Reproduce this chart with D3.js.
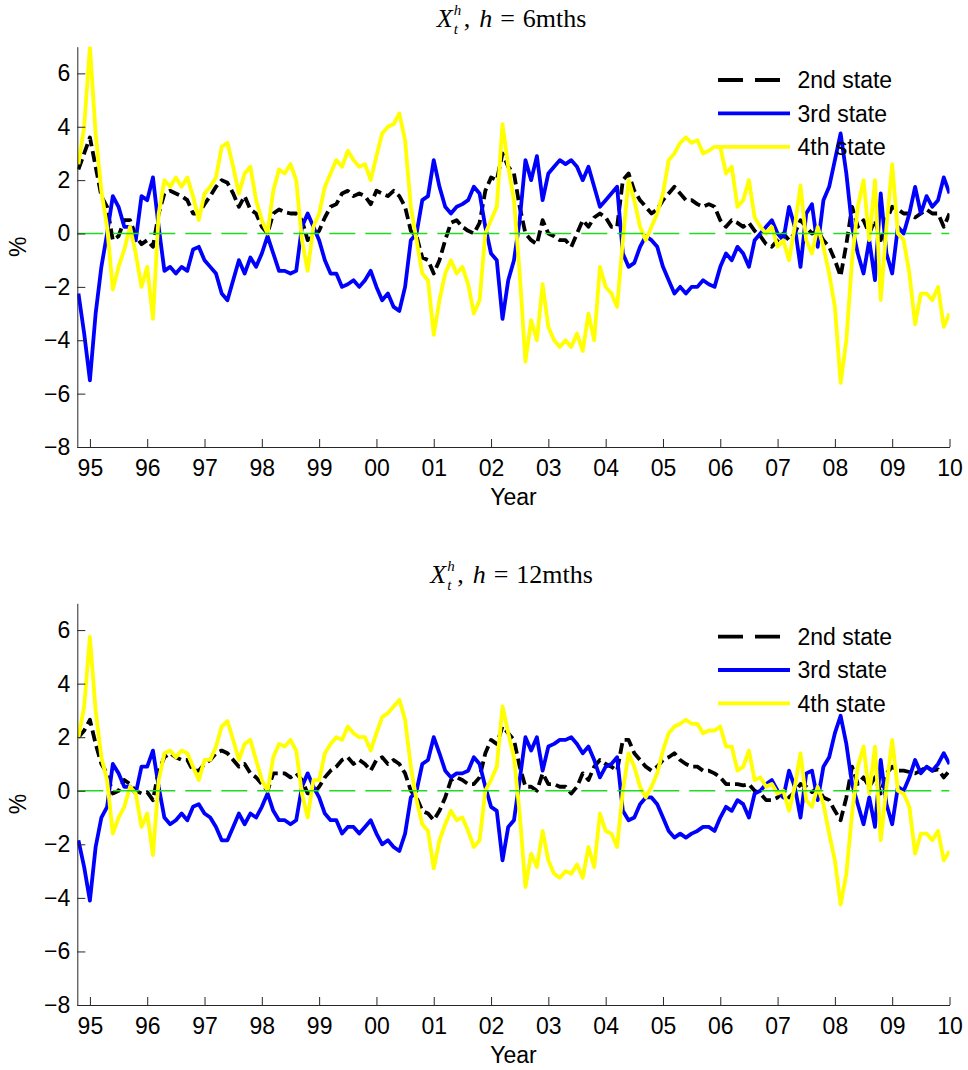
<!DOCTYPE html>
<html>
<head>
<meta charset="utf-8">
<script src="https://cdn.jsdelivr.net/npm/d3@7"></script>
<style>
  body { margin: 0; background: #fff; }
  svg { display: block; }
</style>
</head>
<body>
<svg id="chart" width="968" height="1070"></svg>
<script>
// Sample dates: decimal years, one observation every 0.1 year from 1994.8
const startYear = 1994.8;
const stepYear = 0.1;

// Horizon h = 6 months
const state2_6m = [2.4,3.0,3.6,2.5,1.4,1.0,-0.25,-0.1,0.5,0.5,-0.1,-0.4,-0.25,-0.5,0.75,1.5,1.6,1.5,1.4,1.25,0.75,0.75,1.1,1.4,1.75,2.0,1.9,1.5,1.0,1.4,0.9,0.75,0.25,0,0.75,0.9,0.8,0.75,
  0.75,0.5,-0.25,-0.1,0.1,0.6,1.0,1.1,1.5,1.6,1.4,1.5,1.4,1.1,1.6,1.5,1.4,1.6,1.4,1.0,0.1,-0.1,-0.9,-1.0,-1.5,-1.0,-0.25,0.4,0.5,0.25,0.1,0,0.4,1.6,2.1,2.0,3.0,2.5,
  2.25,1.0,0,-0.25,-0.4,0.5,0,-0.1,-0.25,-0.25,-0.5,0,0.5,0.25,0.6,0.75,0.6,0.25,0.25,2.0,2.25,1.6,1.25,1.0,0.75,0.9,1.25,1.5,1.75,1.5,1.25,1.25,1.1,1.0,1.1,1.0,0.5,0.25,
  0.5,0.4,0.25,0.4,0.1,-0.1,-0.4,-0.5,-0.25,0,-0.25,0,0.5,0.25,0,0.1,-0.25,-0.5,-1.0,-1.6,-0.4,1.0,0.25,0.5,0,0.5,-0.25,0.5,1.0,0.9,0.75,0.75,0.6,0.75,0.9,0.75,0.75,0.25,0.75];

const state3_6m = [-2.25,-3.75,-5.5,-3.0,-1.25,0,1.4,1.0,0.25,0.25,-0.25,1.4,1.25,2.1,0.25,-1.4,-1.25,-1.5,-1.25,-1.4,-0.6,-0.5,-1.0,-1.25,-1.5,-2.25,-2.5,-1.75,-1.0,-1.5,-0.9,-1.25,-0.75,-0.1,-0.75,-1.4,-1.4,-1.5,
  -1.4,0.25,0.75,0.25,-0.25,-1.0,-1.5,-1.5,-2.0,-1.9,-1.75,-2.0,-1.75,-1.4,-2.0,-2.5,-2.25,-2.75,-2.9,-2.0,-0.25,0,1.25,1.4,2.75,1.75,1.0,0.75,1.0,1.1,1.25,1.75,1.5,0.25,-0.75,-1.0,-3.2,-1.75,
  -1.0,0.5,2.75,2.0,2.9,1.25,2.25,2.5,2.75,2.6,2.75,2.5,2.0,2.5,1.75,1.0,1.25,1.5,1.75,-0.75,-1.25,-1.1,-0.5,-0.1,-0.25,-0.5,-1.25,-1.75,-2.25,-2.0,-2.25,-2.0,-2.0,-1.75,-1.9,-2.0,-1.25,-0.75,
  -1.0,-0.5,-0.75,-1.25,-0.25,0,0.25,0.5,0,-0.25,1.0,0.25,-1.25,0.75,1.1,-0.5,1.25,1.75,2.75,3.75,2.25,0.25,-0.75,-1.5,-0.25,-1.75,1.5,-0.75,-1.5,0.25,0,0.75,1.75,0.75,1.4,1.0,1.25,2.1,1.5];

const state4_6m = [2.6,4.0,7.0,3.75,1.6,0.25,-2.1,-1.25,-0.6,0.25,-0.75,-2.0,-1.25,-3.2,0.75,2.0,1.75,2.1,1.75,2.1,1.4,0.5,1.5,1.75,2.1,3.25,3.4,2.5,1.5,2.25,2.5,1.25,0.5,0,1.6,2.4,2.25,2.6,
  2.0,-0.25,-1.4,0.25,0.75,1.75,2.25,2.75,2.5,3.1,2.75,2.5,2.6,2.0,2.9,3.75,4.0,4.1,4.5,3.5,1.0,-0.25,-1.5,-1.75,-3.8,-2.5,-1.5,-1.0,-1.5,-1.25,-1.9,-3.0,-2.5,0,0.5,1.0,4.1,2.5,
  1.25,-1.5,-4.8,-3.25,-4.0,-1.9,-3.5,-4.0,-4.25,-4.0,-4.25,-3.75,-4.4,-3.0,-4.0,-1.25,-2.0,-2.25,-2.75,-0.25,2.0,1.25,0.25,-0.25,0.25,0.75,1.5,2.75,3.0,3.4,3.6,3.4,3.5,3.0,3.1,3.25,3.25,2.25,
  2.5,1.0,1.25,2.0,0.6,0.25,0,0.25,-0.5,-0.25,-1.0,0.25,1.8,-0.25,-0.75,0.25,-0.5,-1.5,-2.75,-5.6,-4.0,-1.0,1.0,2.0,-0.25,2.0,-2.5,0.25,2.6,0,-0.25,-1.5,-3.4,-2.25,-2.25,-2.5,-2.0,-3.5,-3.0];

// Horizon h = 12 months
const state2_12m = [2.0,2.25,2.65,1.75,1.0,0.65,-0.1,0,0.4,0.25,0,-0.1,-0.05,-0.35,0.75,1.25,1.4,1.25,1.15,1.15,0.75,0.75,1.0,1.15,1.4,1.5,1.4,1.15,0.9,1.0,0.65,0.5,0.25,0,0.65,0.65,0.65,0.5,
  0.65,0.4,-0.1,-0.1,0.15,0.5,0.75,0.9,1.15,1.25,1.0,1.15,1.0,0.75,1.15,1.25,1.0,1.15,1.0,0.65,0,-0.25,-0.75,-0.85,-1.1,-0.75,-0.25,0.4,0.5,0.4,0.25,0.25,0.5,1.4,1.9,1.75,2.4,2.15,
  1.9,0.9,0.15,0.15,0,0.65,0.25,0.25,0.15,0.15,-0.1,0.15,0.65,0.4,0.9,1.15,1.0,0.9,0.75,1.9,1.9,1.4,1.15,0.9,0.75,0.9,1.15,1.25,1.4,1.15,1.0,0.9,0.9,0.75,0.75,0.65,0.5,0.25,
  0.25,0.25,0.2,0.25,0,-0.1,-0.35,-0.35,-0.25,-0.05,-0.25,-0.05,0.25,0.15,-0.05,0.1,-0.25,-0.35,-0.75,-1.1,-0.25,0.9,0.25,0.5,0.15,0.5,-0.1,0.65,0.9,0.75,0.75,0.7,0.65,0.75,0.9,0.75,0.8,0.5,0.75];

const state3_12m = [-1.85,-2.85,-4.1,-2.1,-1.0,-0.6,1.0,0.65,0.15,0.15,-0.1,0.9,0.9,1.5,0.15,-1.0,-1.25,-1.1,-0.85,-1.1,-0.6,-0.5,-0.85,-1.0,-1.35,-1.85,-1.85,-1.35,-0.85,-1.25,-0.85,-1.0,-0.6,-0.1,-0.75,-1.1,-1.1,-1.25,
  -1.1,0.15,0.65,0.15,-0.25,-0.85,-1.1,-1.1,-1.6,-1.35,-1.35,-1.6,-1.35,-1.1,-1.6,-2.0,-1.85,-2.1,-2.25,-1.6,-0.25,0,1.0,1.15,2.0,1.4,0.75,0.5,0.65,0.65,0.75,1.25,1.0,0.15,-0.6,-0.75,-2.6,-1.35,
  -1.1,0.4,2.0,1.5,2.0,0.75,1.65,1.75,1.9,1.9,2.0,1.75,1.4,1.65,1.15,0.5,0.9,1.0,1.25,-0.75,-1.1,-1.0,-0.5,-0.25,-0.25,-0.5,-1.0,-1.5,-1.75,-1.6,-1.75,-1.6,-1.5,-1.35,-1.35,-1.5,-1.0,-0.6,
  -0.75,-0.35,-0.5,-1.0,-0.1,0,0.25,0.4,0,-0.25,0.75,0.15,-1.0,0.65,0.75,-0.35,0.9,1.25,2.15,2.8,1.75,0.25,-0.5,-1.25,-0.25,-1.35,1.15,-0.5,-1.25,0.15,0,0.5,1.15,0.65,0.9,0.75,1.0,1.4,1.0];

const state4_12m = [2.0,3.15,5.75,3.0,1.25,0.4,-1.6,-1.0,-0.6,0.15,-0.1,-1.35,-0.85,-2.4,0.4,1.4,1.5,1.25,1.5,1.4,0.9,0.4,1.15,1.15,1.65,2.4,2.6,1.9,1.15,1.75,1.9,1.15,0.4,0,1.25,1.75,1.65,1.9,
  1.5,-0.1,-1.0,0.4,0.4,1.4,1.75,2.0,1.9,2.4,2.15,2.0,2.0,1.5,2.15,2.75,2.9,3.15,3.4,2.65,0.9,-0.35,-1.25,-1.5,-2.9,-1.85,-1.25,-0.75,-1.1,-1.0,-1.5,-2.1,-1.85,0,0.4,0.9,3.15,2.15,
  1.25,-0.85,-3.6,-2.35,-2.85,-1.5,-2.6,-3.1,-3.25,-3.0,-3.1,-2.75,-3.25,-2.1,-2.85,-0.85,-1.5,-1.6,-2.1,0,1.4,0.9,0.15,-0.25,0.15,0.65,1.5,2.15,2.4,2.5,2.65,2.5,2.5,2.15,2.25,2.25,2.4,1.65,
  1.65,0.75,0.9,1.5,0.4,0.5,0.15,0.25,-0.1,0,-0.75,0.15,1.4,-0.35,-0.6,0.15,-0.5,-1.6,-2.6,-4.25,-3.1,-0.85,0.9,1.65,-0.1,1.65,-1.85,0.15,1.9,0,-0.1,-0.6,-2.35,-1.6,-1.6,-1.85,-1.5,-2.6,-2.25];

const seriesNames = ["2nd state", "3rd state", "4th state"];
const seriesColors = ["#000000", "#0000ff", "#ffff00"];
const horizons = ["6mths", "12mths"];

const yearTicks = [1995,1996,1997,1998,1999,2000,2001,2002,2003,2004,2005,2006,2007,2008,2009,2010];
const yearTickLabels = ["95","96","97","98","99","00","01","02","03","04","05","06","07","08","09","10"];
const valueTicks = [-8,-6,-4,-2,0,2,4,6];

const panels = [
  { horizon: horizons[0], series: [state2_6m, state3_6m, state4_6m], top: 46.7, bottom: 447 },
  { horizon: horizons[1], series: [state2_12m, state3_12m, state4_12m], top: 603.3, bottom: 1005 }
];

const svg = d3.select("#chart");
const left = 77.3, right = 949.5;
const sans = "'Liberation Sans', Arial, Helvetica, sans-serif";
const serif = "'Liberation Serif', 'Times New Roman', serif";

const x = d3.scaleLinear().domain([1994.78, 2010]).range([left, right]);
const dates = d3.range(state2_6m.length).map(i => startYear + i * stepYear);

panels.forEach((p, pi) => {
  const y = d3.scaleLinear().domain([-8, 7]).range([p.bottom, p.top]);
  const g = svg.append("g");

  const clipId = "plot-clip-" + pi;
  svg.append("clipPath").attr("id", clipId)
    .append("rect")
    .attr("x", left).attr("y", p.top)
    .attr("width", right - left).attr("height", p.bottom - p.top);

  const plot = g.append("g").attr("clip-path", `url(#${clipId})`);
  const line = d3.line().x((d, i) => x(dates[i])).y(d => y(d));

  // series, in legend order (later ones on top)
  p.series.forEach((vals, si) => {
    plot.append("path")
      .datum(vals)
      .attr("d", line)
      .attr("fill", "none")
      .attr("stroke", seriesColors[si])
      .attr("stroke-width", 3.8)
      .attr("stroke-linejoin", "round")
      .attr("stroke-dasharray", si === 0 ? "11,5" : null);
  });

  // zero reference line
  plot.append("line")
    .attr("x1", left).attr("x2", right)
    .attr("y1", y(0)).attr("y2", y(0))
    .attr("stroke", "#1edc1e")
    .attr("stroke-width", 1.5)
    .attr("stroke-dasharray", "26,10");

  // axes
  const xAxis = d3.axisBottom(x)
    .tickValues(yearTicks)
    .tickFormat((d, i) => yearTickLabels[i])
    .tickSizeInner(-8).tickSizeOuter(0).tickPadding(12.5);
  const yAxis = d3.axisLeft(y)
    .tickValues(valueTicks)
    .tickSizeInner(-8).tickSizeOuter(0).tickPadding(7);

  const gx = g.append("g").attr("transform", `translate(0,${p.bottom})`).call(xAxis);
  const gy = g.append("g").attr("transform", `translate(${left},0)`).call(yAxis);
  [gx, gy].forEach(a => {
    a.selectAll("path, line").attr("stroke", "#262626").attr("stroke-width", 1);
    a.selectAll("text").attr("fill", "#000").style("font-family", sans).style("font-size", "23px");
  });

  // axis labels
  g.append("text")
    .attr("x", (left + right) / 2).attr("y", p.bottom + 58)
    .attr("text-anchor", "middle")
    .style("font-family", sans).style("font-size", "23px")
    .text("Year");
  g.append("text")
    .attr("transform", `translate(26,${(p.top + p.bottom) / 2}) rotate(-90)`)
    .attr("text-anchor", "middle")
    .style("font-family", sans).style("font-size", "23px")
    .text("%");

  // title: X_t^h, h = ...   (main symbol, stacked sub/superscript, then the rest)
  const ty = p.top - 20;
  const tg = g.append("g").style("font-family", serif);
  tg.append("text")
    .attr("x", 0).attr("y", ty)
    .style("font-size", "26px").style("font-style", "italic")
    .text("X");
  tg.append("text")
    .attr("x", 17).attr("y", ty - 12)
    .style("font-size", "15px").style("font-style", "italic")
    .text("h");
  tg.append("text")
    .attr("x", 17).attr("y", ty + 7)
    .style("font-size", "15px").style("font-style", "italic")
    .text("t");
  const rest = tg.append("text")
    .attr("x", 27).attr("y", ty)
    .style("font-size", "26px");
  rest.append("tspan").text(",");
  rest.append("tspan").attr("dx", 9).style("font-style", "italic").text("h");
  rest.append("tspan").attr("dx", 8).text("=");
  rest.append("tspan").attr("dx", 8).text(p.horizon);
  const tb = tg.node().getBBox();
  tg.attr("transform", `translate(${512 - tb.width / 2},0)`);

  // legend
  const leg = g.append("g");
  seriesNames.forEach((name, si) => {
    const ly = p.top + 33.3 + si * 33.4;
    leg.append("line")
      .attr("x1", 718).attr("x2", 790).attr("y1", ly).attr("y2", ly)
      .attr("stroke", seriesColors[si]).attr("stroke-width", 3.8)
      .attr("stroke-dasharray", si === 0 ? "25,12" : null);
    leg.append("text")
      .attr("x", 797.5).attr("y", ly + 8.3)
      .style("font-family", sans).style("font-size", "23px")
      .text(name);
  });
});
</script>
</body>
</html>
